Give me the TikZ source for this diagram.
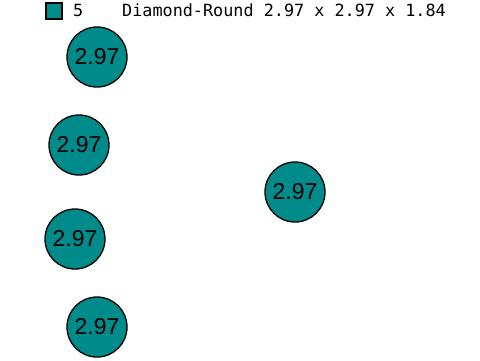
\documentclass[tikz,border=0pt]{standalone}
\usepackage{fontspec}
\setmainfont{Liberation Sans}
\newfontfamily\legendfont{DejaVu Sans Mono}
\usepackage{tikz}
\definecolor{tealfill}{RGB}{0,139,139}
\tikzset{
  roundnode/.style={circle,draw=black,line width=1.3pt,fill=tealfill,minimum size=60pt,inner sep=0pt,font=\fontsize{23}{23}\selectfont},
  legendbox/.style={draw=black,line width=1.3pt,fill=tealfill,minimum size=16pt,inner sep=0pt},
  legendtext/.style={anchor=west,inner sep=0pt,font=\legendfont\fontsize{16.8}{16.8}\selectfont}
}
\begin{document}
\begin{tikzpicture}[x=1pt,y=-1pt]
\useasboundingbox (0,0) rectangle (480,360);
% legend
\node[legendbox] (key) at (54,11) {};
\node[legendtext] (keynum) at (73,10) {5};
\node[legendtext] (keyname) at (122,10) {Diamond-Round 2.97 x 2.97 x 1.84};
% nodes
\node[roundnode] (n1) at (97,57) {2.97};
\node[roundnode] (n2) at (79,145) {2.97};
\node[roundnode] (n3) at (75,239) {2.97};
\node[roundnode] (n4) at (97,327) {2.97};
\node[roundnode] (n5) at (295,192) {2.97};
\end{tikzpicture}
\end{document}
